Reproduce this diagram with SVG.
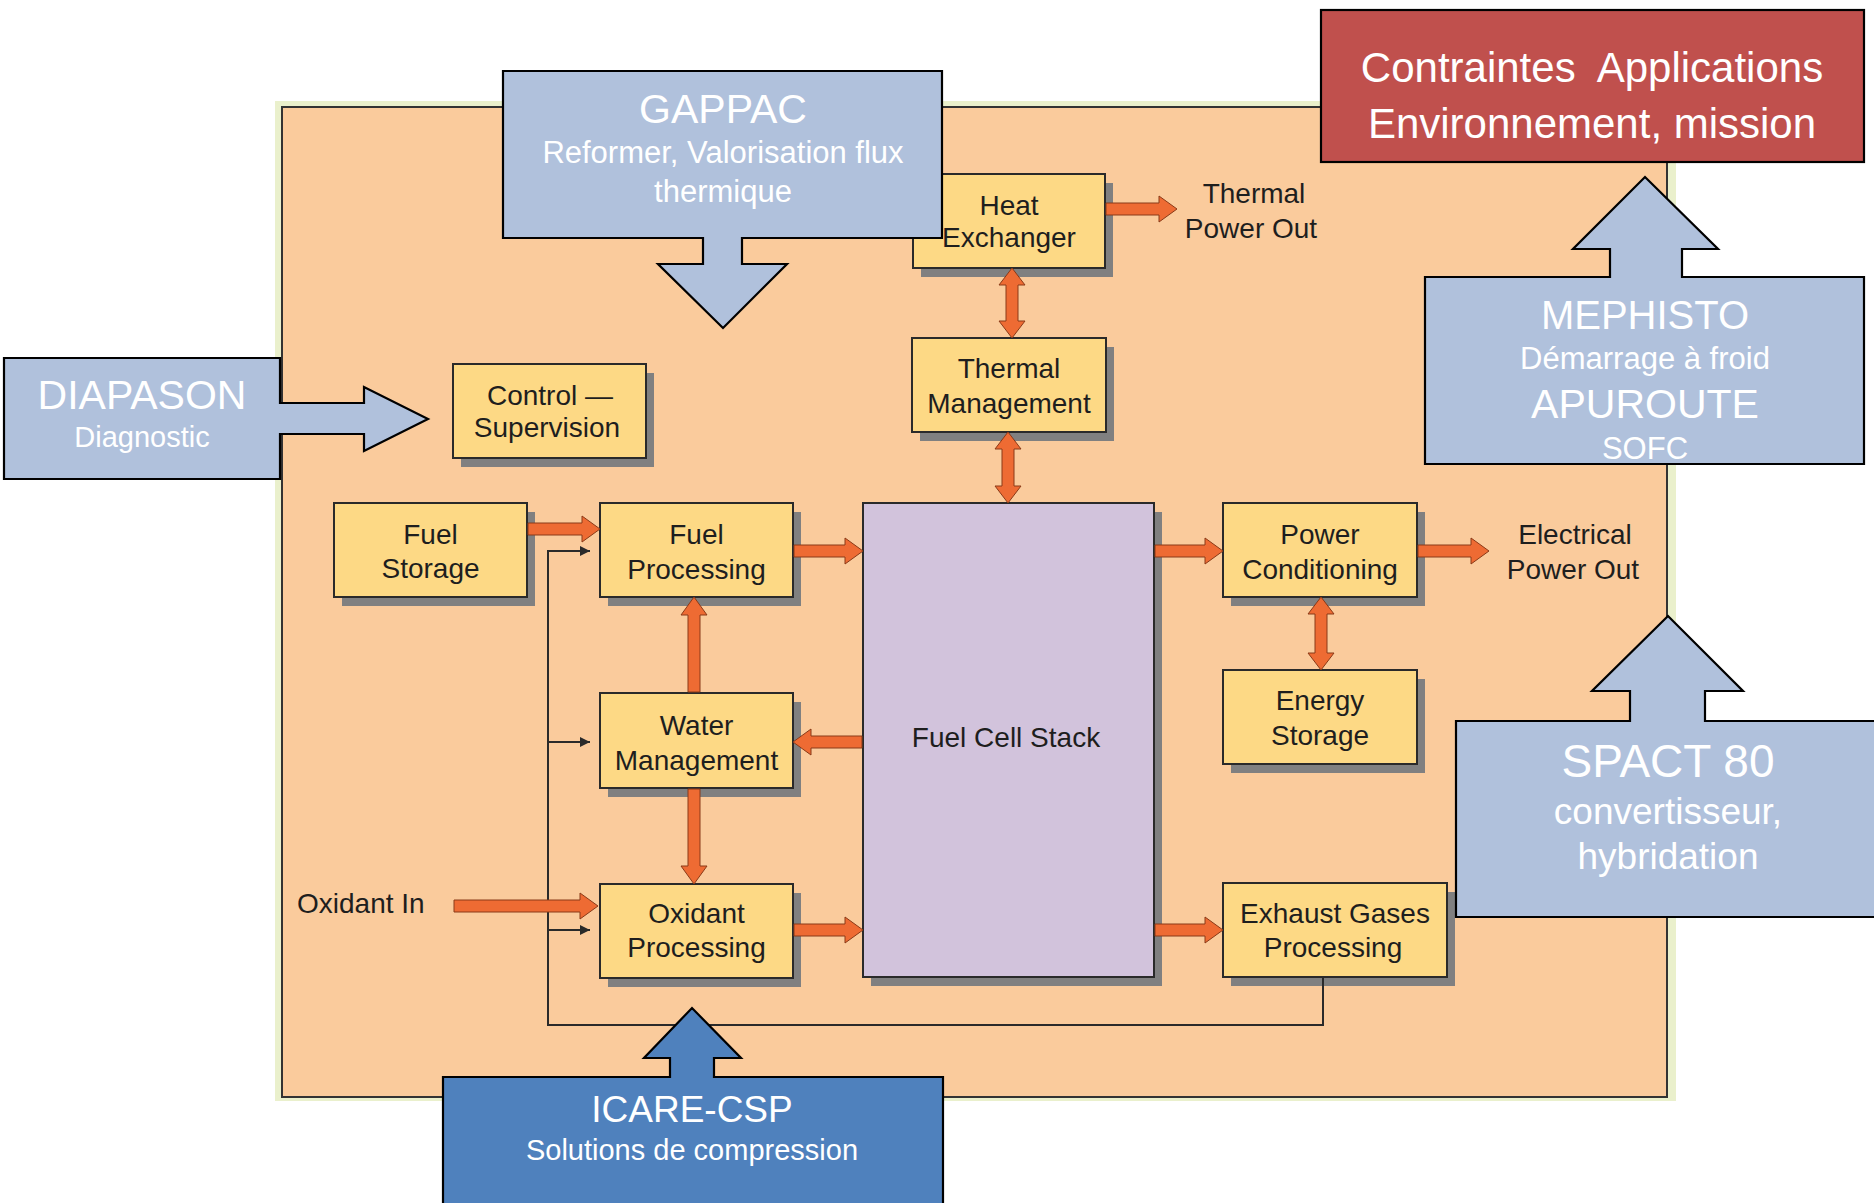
<svg xmlns="http://www.w3.org/2000/svg" width="1874" height="1203" viewBox="0 0 1874 1203">
<defs>
<style>
.box{fill:#FDD985;stroke:#2a2a2a;stroke-width:2}
.stack{fill:#D2C3DC;stroke:#2a2a2a;stroke-width:2}
.shadow{fill:#808080}
.lbl{font-family:"Liberation Sans",Arial,sans-serif;font-size:28px;fill:#1e1e1e;text-anchor:middle}
.callout{fill:#B0C1DC;stroke:#000;stroke-width:2.2}
.ctitle{font-family:"Liberation Sans",Arial,sans-serif;fill:#fff;text-anchor:middle}
.oarrow{fill:#EE6B33;stroke:#8a3a18;stroke-width:1}
.thin{fill:none;stroke:#2a2a2a;stroke-width:2}
</style>
<marker id="ah" viewBox="0 0 10 10" refX="10" refY="5" markerWidth="10" markerHeight="10" markerUnits="userSpaceOnUse" orient="auto">
<path d="M0,0 L10,5 L0,10 Z" fill="#2a2a2a"/>
</marker>
</defs>
<rect width="1874" height="1203" fill="#fff"/>
<g id="panel">
<rect x="275" y="101" width="1401" height="1000" fill="#EAF0CC"/>
<rect x="282" y="107" width="1385" height="990" fill="#FACB9C" stroke="#333" stroke-width="2"/>
</g>
<g id="control">
<rect class="shadow" x="461" y="373" width="193" height="94"/>
<rect class="box" x="453" y="364" width="193" height="94"/>
<text class="lbl" x="550" y="405">Control —</text>
<text class="lbl" x="547" y="437">Supervision</text>
</g>
<g id="fuel-storage">
<rect class="shadow" x="342" y="512" width="193" height="94"/>
<rect class="box" x="334" y="503" width="193" height="94"/>
<text class="lbl" x="430.5" y="544">Fuel</text>
<text class="lbl" x="430.5" y="578">Storage</text>
</g>
<g id="fuel-processing">
<rect class="shadow" x="608" y="512" width="193" height="94"/>
<rect class="box" x="600" y="503" width="193" height="94"/>
<text class="lbl" x="696.5" y="544">Fuel</text>
<text class="lbl" x="696.5" y="579">Processing</text>
</g>
<g id="water-management">
<rect class="shadow" x="608" y="702" width="193" height="95"/>
<rect class="box" x="600" y="693" width="193" height="95"/>
<text class="lbl" x="696.5" y="735">Water</text>
<text class="lbl" x="696.5" y="770">Management</text>
</g>
<g id="oxidant-processing">
<rect class="shadow" x="608" y="893" width="193" height="94"/>
<rect class="box" x="600" y="884" width="193" height="94"/>
<text class="lbl" x="696.5" y="923">Oxidant</text>
<text class="lbl" x="696.5" y="957">Processing</text>
</g>
<g id="oxidant-in">
<text class="lbl" x="297" y="913" style="text-anchor:start">Oxidant In</text>
</g>
<g id="heat-exchanger">
<rect class="shadow" x="921" y="183" width="192" height="94"/>
<rect class="box" x="913" y="174" width="192" height="94"/>
<text class="lbl" x="1009" y="215">Heat</text>
<text class="lbl" x="1009" y="247">Exchanger</text>
</g>
<g id="thermal-power-out">
<text class="lbl" x="1254" y="203">Thermal</text>
<text class="lbl" x="1251" y="238">Power Out</text>
</g>
<g id="thermal-management">
<rect class="shadow" x="920" y="347" width="194" height="94"/>
<rect class="box" x="912" y="338" width="194" height="94"/>
<text class="lbl" x="1009" y="378">Thermal</text>
<text class="lbl" x="1009" y="413">Management</text>
</g>
<g id="fuel-cell-stack">
<rect class="shadow" x="871" y="512" width="291" height="474"/>
<rect class="stack" x="863" y="503" width="291" height="474"/>
<text class="lbl" x="1006" y="747">Fuel Cell Stack</text>
</g>
<g id="power-conditioning">
<rect class="shadow" x="1231" y="512" width="194" height="94"/>
<rect class="box" x="1223" y="503" width="194" height="94"/>
<text class="lbl" x="1320" y="544">Power</text>
<text class="lbl" x="1320" y="579">Conditioning</text>
</g>
<g id="electrical-power-out">
<text class="lbl" x="1575" y="544">Electrical</text>
<text class="lbl" x="1573" y="579">Power Out</text>
</g>
<g id="energy-storage">
<rect class="shadow" x="1231" y="679" width="194" height="94"/>
<rect class="box" x="1223" y="670" width="194" height="94"/>
<text class="lbl" x="1320" y="710">Energy</text>
<text class="lbl" x="1320" y="745">Storage</text>
</g>
<g id="exhaust-gases">
<rect class="shadow" x="1231" y="892" width="224" height="94"/>
<rect class="box" x="1223" y="883" width="224" height="94"/>
<text class="lbl" x="1335" y="923">Exhaust Gases</text>
<text class="lbl" x="1333" y="957">Processing</text>
</g>
<g id="connectors">
<path class="thin" d="M1323,978 V1025 H548 V551 H590" marker-end="url(#ah)"/>
<path class="thin" d="M548,742 H590" marker-end="url(#ah)"/>
<path class="thin" d="M548,930 H590" marker-end="url(#ah)"/>
<path class="oarrow" d="M528,523 H582 V516 L600,529 L582,542 V535 H528 Z"/>
<path class="oarrow" d="M454,900 H580 V893 L598,906 L580,919 V912 H454 Z"/>
<path class="oarrow" d="M794,545 H845 V538 L863,551 L845,564 V557 H794 Z"/>
<path class="oarrow" d="M794,924 H845 V917 L863,930 L845,943 V936 H794 Z"/>
<path class="oarrow" d="M862,736 H811 V729 L793,742 L811,755 V748 H862 Z"/>
<path class="oarrow" d="M1155,545 H1205 V538 L1223,551 L1205,564 V557 H1155 Z"/>
<path class="oarrow" d="M1155,924 H1205 V917 L1223,930 L1205,943 V936 H1155 Z"/>
<path class="oarrow" d="M1418,545 H1471 V538 L1489,551 L1471,564 V557 H1418 Z"/>
<path class="oarrow" d="M1106,203 H1159 V196 L1177,209 L1159,222 V215 H1106 Z"/>
<path class="oarrow" d="M688,692 V615 H681 L694,597 L707,615 H700 V692 Z"/>
<path class="oarrow" d="M688,789 V866 H681 L694,884 L707,866 H700 V789 Z"/>
<path class="oarrow" d="M1012,268 L1025,285 H1018 V321 H1025 L1012,338 L999,321 H1006 V285 H999 Z"/>
<path class="oarrow" d="M1008,432 L1021,449 H1014 V486 H1021 L1008,503 L995,486 H1002 V449 H995 Z"/>
<path class="oarrow" d="M1321,597 L1334,614 H1327 V653 H1334 L1321,670 L1308,653 H1315 V614 H1308 Z"/>
</g>
<g id="gappac">
<path class="callout" d="M503,71 H942 V238 H742 V264 H787 L723,328 L658,264 H703 V238 H503 Z"/>
<text class="ctitle" x="723" y="123" font-size="41">GAPPAC</text>
<text class="ctitle" x="723" y="163" font-size="31">Reformer, Valorisation flux</text>
<text class="ctitle" x="723" y="202" font-size="31">thermique</text>
</g>
<g id="diapason">
<path class="callout" d="M4,358 H280 V403 H364 V387 L428,419 L364,451 V434 H280 V479 H4 Z"/>
<text class="ctitle" x="142" y="409" font-size="41">DIAPASON</text>
<text class="ctitle" x="142" y="447" font-size="29">Diagnostic</text>
</g>
<g id="contraintes">
<rect x="1321" y="10" width="543" height="152" fill="#C0504D" stroke="#000" stroke-width="2.2"/>
<text class="ctitle" x="1592" y="82" font-size="42" xml:space="preserve">Contraintes  Applications</text>
<text class="ctitle" x="1592" y="138" font-size="42">Environnement, mission</text>
</g>
<g id="mephisto">
<path class="callout" d="M1425,277 H1610 V249 H1573 L1645,177 L1718,249 H1682 V277 H1864 V464 H1425 Z"/>
<text class="ctitle" x="1645" y="329" font-size="40">MEPHISTO</text>
<text class="ctitle" x="1645" y="369" font-size="31">Démarrage à froid</text>
<text class="ctitle" x="1645" y="418" font-size="41">APUROUTE</text>
<text class="ctitle" x="1645" y="459" font-size="31">SOFC</text>
</g>
<g id="spact80">
<path class="callout" d="M1456,721 H1630 V691 H1592 L1668,616 L1743,691 H1705 V721 H1880 V917 H1456 Z"/>
<text class="ctitle" x="1668" y="777" font-size="46">SPACT 80</text>
<text class="ctitle" x="1668" y="824" font-size="37">convertisseur,</text>
<text class="ctitle" x="1668" y="869" font-size="37">hybridation</text>
</g>
<g id="icare-csp">
<path d="M443,1077 H670 V1058 H644 L692,1008 L741,1058 H714 V1077 H943 V1210 H443 Z" fill="#4F81BD" stroke="#000" stroke-width="2.2"/>
<text class="ctitle" x="692" y="1122" font-size="37">ICARE-CSP</text>
<text class="ctitle" x="692" y="1160" font-size="29">Solutions de compression</text>
</g>
</svg>
